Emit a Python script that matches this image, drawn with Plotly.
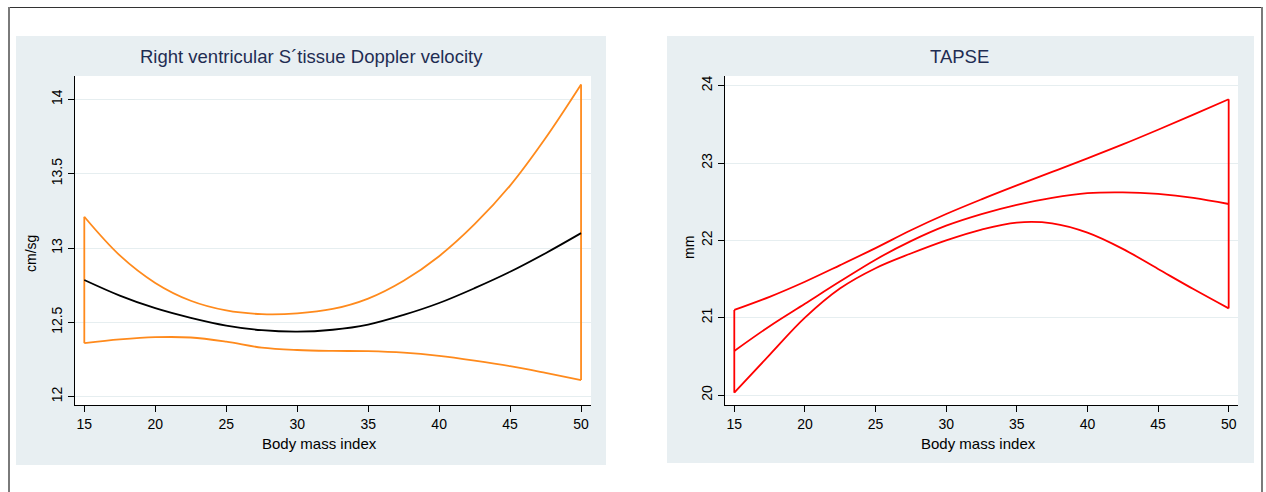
import plotly.graph_objects as go

W, H = 1266, 492

# ---- data ----
bmi = [15, 17.5, 20, 22.5, 25, 27.5, 30, 32.5, 35, 37.5, 40, 42.5, 45, 47.5, 50]

rv_upper = [13.21, 12.95, 12.765, 12.645, 12.58, 12.555, 12.56, 12.59, 12.66, 12.78, 12.945, 13.16, 13.42, 13.74, 14.10]
rv_fit   = [12.785, 12.68, 12.595, 12.53, 12.478, 12.447, 12.437, 12.45, 12.485, 12.55, 12.63, 12.73, 12.84, 12.965, 13.10]
rv_lower = [12.36, 12.385, 12.40, 12.398, 12.37, 12.33, 12.314, 12.308, 12.306, 12.296, 12.274, 12.242, 12.205, 12.16, 12.112]

tp_upper = [21.10, 21.27, 21.465, 21.68, 21.90, 22.13, 22.34, 22.53, 22.71, 22.885, 23.06, 23.24, 23.43, 23.625, 23.824]
tp_fit   = [20.57, 20.89, 21.18, 21.47, 21.75, 21.99, 22.19, 22.34, 22.46, 22.55, 22.61, 22.62, 22.60, 22.55, 22.47]
tp_lower = [20.03, 20.52, 21.00, 21.38, 21.64, 21.83, 22.00, 22.14, 22.23, 22.22, 22.10, 21.89, 21.63, 21.37, 21.12]

x_ticks = [15, 20, 25, 30, 35, 40, 45, 50]
rv_yticks = [12, 12.5, 13, 13.5, 14]
tp_yticks = [20, 21, 22, 23, 24]

titles = ["Right ventricular S\u00b4tissue Doppler velocity", "TAPSE"]
xtitle = "Body mass index"
ytitles = ["cm/sg", "mm"]

ORANGE = "#ff8a1c"
RED = "#ff0000"
BLACK = "#000000"
PANEL = "#e8eff2"
GRID = "#e6eef0"
TITLE_C = "#1f2d52"
FONT = "Liberation Sans, Arial, sans-serif"

def px(x):
    return x / W

def py(y):
    return 1 - y / H

fig = go.Figure()

def band(xa, ya, upper, lower, fit, band_color, fit_color):
    lw = 1.8
    sm = 1.0
    fig.add_trace(go.Scatter(x=bmi, y=upper, mode="lines", line=dict(color=band_color, width=lw, shape="spline", smoothing=sm),
                             xaxis=xa, yaxis=ya, showlegend=False, hoverinfo="skip"))
    fig.add_trace(go.Scatter(x=bmi, y=lower, mode="lines", line=dict(color=band_color, width=lw, shape="spline", smoothing=sm),
                             xaxis=xa, yaxis=ya, showlegend=False, hoverinfo="skip"))
    fig.add_trace(go.Scatter(x=[bmi[0], bmi[0]], y=[upper[0], lower[0]], mode="lines", line=dict(color=band_color, width=lw),
                             xaxis=xa, yaxis=ya, showlegend=False, hoverinfo="skip"))
    fig.add_trace(go.Scatter(x=[bmi[-1], bmi[-1]], y=[upper[-1], lower[-1]], mode="lines", line=dict(color=band_color, width=lw),
                             xaxis=xa, yaxis=ya, showlegend=False, hoverinfo="skip"))
    fig.add_trace(go.Scatter(x=bmi, y=fit, mode="lines", line=dict(color=fit_color, width=lw, shape="spline", smoothing=sm),
                             xaxis=xa, yaxis=ya, showlegend=False, hoverinfo="skip"))

band("x", "y", rv_upper, rv_lower, rv_fit, ORANGE, BLACK)
band("x2", "y2", tp_upper, tp_lower, tp_fit, RED, RED)

# plot areas (pixels)
L = dict(x0=75, x1=591, y0=76, y1=405)
R = dict(x0=725, x1=1238, y0=76, y1=405)

axis_common = dict(showline=True, linecolor="black", linewidth=1, ticks="outside", ticklen=6, tickwidth=1,
                   tickcolor="black", zeroline=False, tickfont=dict(family=FONT, size=14, color="black"),
                   mirror=False)

fig.update_layout(
    width=W, height=H, margin=dict(l=0, r=0, t=0, b=0),
    paper_bgcolor="white", plot_bgcolor="rgba(0,0,0,0)",
    xaxis=dict(domain=[px(L["x0"]), px(L["x1"])], range=[14.345, 50.70], tickvals=x_ticks,
               showgrid=False, anchor="y", **axis_common),
    yaxis=dict(domain=[py(L["y1"]), py(L["y0"])], range=[11.944, 14.157], tickvals=rv_yticks,
               ticktext=[f"{v:g}" for v in rv_yticks], tickangle=-90,
               showgrid=True, gridcolor=GRID, gridwidth=1, anchor="x", **axis_common),
    xaxis2=dict(domain=[px(R["x0"]), px(R["x1"])], range=[14.342, 50.66], tickvals=x_ticks,
                showgrid=False, anchor="y2", **axis_common),
    yaxis2=dict(domain=[py(R["y1"]), py(R["y0"])], range=[19.871, 24.125], tickvals=tp_yticks,
                ticktext=[f"{v:g}" for v in tp_yticks], tickangle=-90,
                showgrid=True, gridcolor=GRID, gridwidth=1, anchor="x2", **axis_common),
)

shapes = []
# panel backgrounds
shapes.append(dict(type="rect", xref="paper", yref="paper", x0=px(16), x1=px(606), y0=py(465), y1=py(36),
                   fillcolor=PANEL, line=dict(width=0), layer="below"))
shapes.append(dict(type="rect", xref="paper", yref="paper", x0=px(667), x1=px(1254), y0=py(463), y1=py(36),
                   fillcolor=PANEL, line=dict(width=0), layer="below"))
# white plot regions
for P in (L, R):
    shapes.append(dict(type="rect", xref="paper", yref="paper", x0=px(P["x0"]), x1=px(P["x1"]), y0=py(P["y1"]), y1=py(P["y0"]),
                       fillcolor="white", line=dict(width=0), layer="below"))
# outer border
shapes.append(dict(type="line", xref="paper", yref="paper", x0=px(9), x1=px(1262), y0=py(7.5), y1=py(7.5),
                   line=dict(color="#333333", width=1)))
shapes.append(dict(type="line", xref="paper", yref="paper", x0=px(9), x1=px(9), y0=py(7), y1=py(500),
                   line=dict(color="#7a7a7a", width=2)))
shapes.append(dict(type="line", xref="paper", yref="paper", x0=px(1262), x1=px(1262), y0=py(7), y1=py(500),
                   line=dict(color="#7a7a7a", width=2)))
fig.update_layout(shapes=shapes)

ann = []
ann.append(dict(text=titles[0], x=px(311), y=py(57), xref="paper", yref="paper", showarrow=False,
                font=dict(family=FONT, size=18.5, color=TITLE_C), xanchor="center", yanchor="middle"))
ann.append(dict(text=titles[1], x=px(960), y=py(57), xref="paper", yref="paper", showarrow=False,
                font=dict(family=FONT, size=18.5, color=TITLE_C), xanchor="center", yanchor="middle"))
ann.append(dict(text=xtitle, x=px(319), y=py(443), xref="paper", yref="paper", showarrow=False,
                font=dict(family=FONT, size=15, color="black"), xanchor="center", yanchor="middle"))
ann.append(dict(text=xtitle, x=px(978), y=py(443), xref="paper", yref="paper", showarrow=False,
                font=dict(family=FONT, size=15, color="black"), xanchor="center", yanchor="middle"))
ann.append(dict(text=ytitles[0], x=px(31), y=py(254), xref="paper", yref="paper", showarrow=False, textangle=-90,
                font=dict(family=FONT, size=14, color="black"), xanchor="center", yanchor="middle"))
ann.append(dict(text=ytitles[1], x=px(689), y=py(248), xref="paper", yref="paper", showarrow=False, textangle=-90,
                font=dict(family=FONT, size=14, color="black"), xanchor="center", yanchor="middle"))
fig.update_layout(annotations=ann)

fig.write_html("out.html")
